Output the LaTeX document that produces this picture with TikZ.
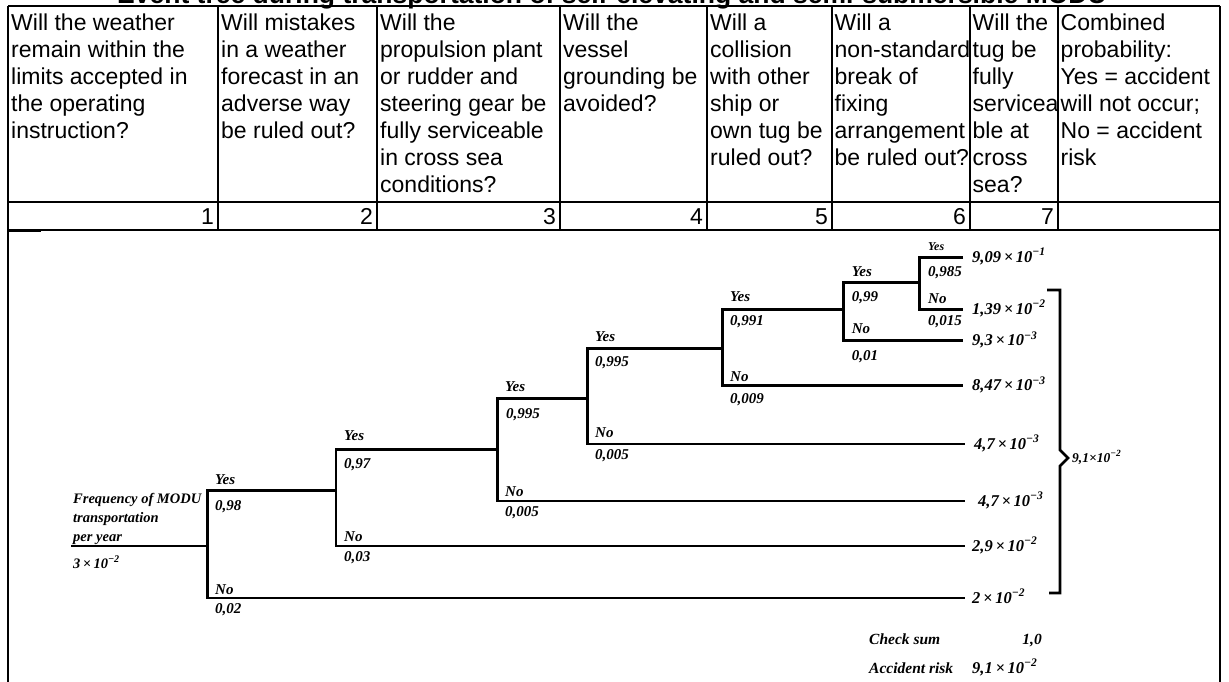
\documentclass[tikz,border=0pt]{standalone}
\usepackage{fontspec}
\setmainfont{Liberation Sans}
\newfontfamily\treefont{Liberation Serif}
\newcommand\tenp[1]{10\textsuperscript{−#1}}
\newcommand\tms{\,×\,}
\begin{document}
\begin{tikzpicture}[x=1pt,y=-1pt,
  tbl/.style={line width=1.9pt},
  br/.style={line width=2.6pt, line join=miter},
  hl/.style={anchor=base west, inner sep=0pt, font=\fontsize{23}{27}\selectfont},
  numl/.style={anchor=base east, inner sep=0pt, font=\fontsize{23}{27}\selectfont},
  lab/.style={anchor=base west, inner sep=0pt, font=\treefont\bfseries\itshape\fontsize{15}{17}\selectfont},
  stl/.style={anchor=base west, inner sep=0pt, font=\treefont\bfseries\itshape\fontsize{14.5}{16}\selectfont},
  outl/.style={anchor=base west, inner sep=0pt, font=\treefont\bfseries\itshape\fontsize{16.5}{18}\selectfont},
  suml/.style={anchor=base west, inner sep=0pt, font=\treefont\bfseries\itshape\fontsize{15.5}{18}\selectfont}
]
\fill[white] (0,0) rectangle (1229,682);
\useasboundingbox (0,0) rectangle (1229,682);

% title (cut at top)
\node[anchor=base, inner sep=0pt, font=\bfseries\fontsize{26.5}{30}\selectfont] (title) at (612,4)
  {Event tree during transportation of self-elevating and semi-submersible MODU};

% table
\draw[tbl] (8,6) -- (1220,6);
\draw[tbl] (8,202) -- (1220,202);
\draw[line width=1.1pt] (8,230) -- (1220,230);
\draw[tbl] (8,6) -- (8,690);
\draw[tbl] (1220,6) -- (1220,690);
\foreach \x in {218,377,560,707,832,970,1058} \draw[tbl] (\x,6) -- (\x,230);
\draw[tbl] (8,231.5) -- (41,231.5);

% header texts
\foreach \t [count=\i] in {Will the weather,remain within the,limits accepted in,the operating,instruction?}
  \node[hl] (ha\i) at (11,{31+27*(\i-1)}) {\t};
\foreach \t [count=\i] in {Will mistakes,in a weather,forecast in an,adverse way,be ruled out?}
  \node[hl] (hb\i) at (221,{31+27*(\i-1)}) {\t};
\foreach \t [count=\i] in {Will the,propulsion plant,or rudder and,steering gear be,fully serviceable,in cross sea,conditions?}
  \node[hl] (hc\i) at (380,{31+27*(\i-1)}) {\t};
\foreach \t [count=\i] in {Will the,vessel,grounding be,avoided?}
  \node[hl] (hd\i) at (563,{31+27*(\i-1)}) {\t};
\foreach \t [count=\i] in {Will a,collision,with other,ship or,own tug be,ruled out?}
  \node[hl] (he\i) at (710,{31+27*(\i-1)}) {\t};
\foreach \t [count=\i] in {Will a,non-standard,break of,fixing,arrangement,be ruled out?}
  \node[hl] (hf\i) at (834.5,{31+27*(\i-1)}) {\t};
\foreach \t [count=\i] in {Will the,tug be,fully,servicea,ble at,cross,sea?}
  \node[hl] (hg\i) at (972.5,{31+27*(\i-1)}) {\t};
\foreach \t [count=\i] in {Combined,probability:,Yes = accident,will not occur;,No = accident,risk}
  \node[hl] (hh\i) at (1060.5,{31+27*(\i-1)}) {\t};

% numbers
\node[numl] (n1) at (214,224) {1};
\node[numl] (n2) at (373,224) {2};
\node[numl] (n3) at (556,224) {3};
\node[numl] (n4) at (703,224) {4};
\node[numl] (n5) at (828,224) {5};
\node[numl] (n6) at (966,224) {6};
\node[numl] (n7) at (1054,224) {7};

% tree coordinates
\coordinate (r0) at (71,545.7);
\coordinate (j1) at (207.5,545.7);
\coordinate (t1) at (207.5,490.7); \coordinate (b1) at (207.5,598);   \coordinate (e1) at (965,598);
\coordinate (j2) at (336,490.7);   \coordinate (t2) at (336,449.3);   \coordinate (b2) at (336,546);   \coordinate (e2) at (965,546);
\coordinate (j3) at (497.7,449.3); \coordinate (t3) at (497.7,398.3); \coordinate (b3) at (497.7,501); \coordinate (e3) at (965,501);
\coordinate (j4) at (587.3,398.3); \coordinate (t4) at (587.3,348.3); \coordinate (b4) at (587.3,444); \coordinate (e4) at (965,444);
\coordinate (j5) at (722.7,348.3); \coordinate (t5) at (722.7,309.3); \coordinate (b5) at (722.7,385.7); \coordinate (e5) at (963,385.7);
\coordinate (j6) at (843.3,309.3); \coordinate (t6) at (843.3,282.7); \coordinate (b6) at (843.3,340.7); \coordinate (e6) at (963,340.7);
\coordinate (j7) at (919.3,282.7); \coordinate (t7) at (919.3,257.3); \coordinate (b7) at (919.3,309.3); \coordinate (e7) at (963,309.3);
\coordinate (y7) at (963,257.3);

\draw[line width=1.7pt] (r0) -- (j1);
\draw[br] (j2) -- (t1) -- (b1) -- (e1);
\draw[br] (j3) -- (t2) -- (b2) -- (e2);
\draw[br] (j4) -- (t3) -- (b3) -- (e3);
\draw[br] (j5) -- (t4) -- (b4) -- (e4);
\draw[br] (j6) -- (t5) -- (b5) -- (e5);
\draw[br] (j7) -- (t6) -- (b6) -- (e6);
\draw[br] (y7) -- (t7) -- (b7) -- (e7);

% bracket
\coordinate (k1) at (1047,290); \coordinate (k2) at (1060,290);
\coordinate (k3) at (1060,450); \coordinate (k4) at (1068,458);
\coordinate (k5) at (1060,466); \coordinate (k6) at (1060,593);
\coordinate (k7) at (1049,593);
\draw[line width=2.8pt, line join=miter] (k1) -- (k2) -- (k3) -- (k4) -- (k5) -- (k6) -- (k7);

% start labels
\node[stl] (f1) at (73,503) {Frequency of MODU};
\node[stl] (f2) at (73,522) {transportation};
\node[stl] (f3) at (73,541) {per year};
\node[stl] (f4) at (73,568) {3\tms\tenp{2}};

% branch labels
\node[lab] (a1) at (215,484.3) {Yes};  \node[lab] (p1) at (215,510) {0,98};
\node[lab] (m1) at (215,594) {No};     \node[lab] (q1) at (215,613) {0,02};
\node[lab] (a2) at (344,440) {Yes};    \node[lab] (p2) at (344,468.3) {0,97};
\node[lab] (m2) at (344,541.7) {No};   \node[lab] (q2) at (344,561.7) {0,03};
\node[lab] (a3) at (505,391) {Yes};    \node[lab] (p3) at (506,418) {0,995};
\node[lab] (m3) at (505,496.7) {No};   \node[lab] (q3) at (505,516) {0,005};
\node[lab] (a4) at (595,341.7) {Yes};  \node[lab] (p4) at (595,366.7) {0,995};
\node[lab] (m4) at (595,437.7) {No};   \node[lab] (q4) at (595,459) {0,005};
\node[lab] (a5) at (730,301.7) {Yes};  \node[lab] (p5) at (730,325) {0,991};
\node[lab] (m5) at (730,381) {No};     \node[lab] (q5) at (730,403) {0,009};
\node[lab] (a6) at (851.7,276.7) {Yes};\node[lab] (p6) at (851.7,301.7) {0,99};
\node[lab] (m6) at (851.7,333.3) {No}; \node[lab] (q6) at (851.7,360) {0,01};
\node[lab, font=\treefont\bfseries\itshape\fontsize{12}{14}\selectfont] (a7) at (928,250) {Yes};
\node[lab] (p7) at (928,276.7) {0,985};
\node[lab] (m7) at (928,303.3) {No};   \node[lab] (q7) at (928,325) {0,015};

% outcomes
\node[outl] (o1) at (972,262) {9,09\tms\tenp{1}};
\node[outl] (o2) at (972,314) {1,39\tms\tenp{2}};
\node[outl] (o3) at (972,345.5) {9,3\tms\tenp{3}};
\node[outl] (o4) at (972,390.5) {8,47\tms\tenp{3}};
\node[outl] (o5) at (974,449) {4,7\tms\tenp{3}};
\node[outl] (o6) at (978,506) {4,7\tms\tenp{3}};
\node[outl] (o7) at (972,551) {2,9\tms\tenp{2}};
\node[outl] (o8) at (972,603) {2\tms\tenp{2}};

\node[lab, font=\treefont\bfseries\itshape\fontsize{13.5}{15}\selectfont] (bl) at (1072,462) {9,1×\tenp{2}};

% sums
\node[suml] (cs) at (869,644) {Check sum};
\node[suml, anchor=base east] (cv) at (1042,644) {1,0};
\node[suml] (ar) at (869,673) {Accident risk};
\node[outl] (av) at (972,673) {9,1\tms\tenp{2}};
\end{tikzpicture}
\end{document}
